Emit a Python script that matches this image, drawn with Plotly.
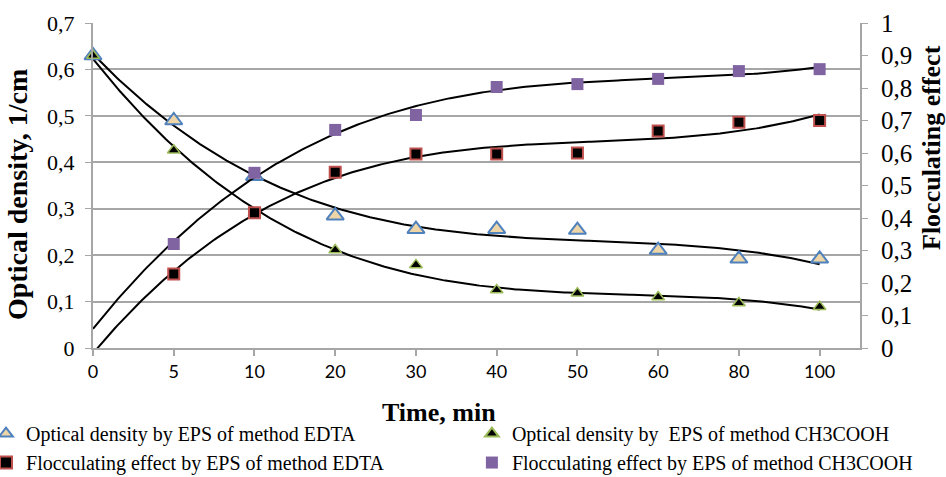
import numpy as np
import plotly.graph_objects as go

time_labels = ["0", "5", "10", "20", "30", "40", "50", "60", "80", "100"]
od_edta = [0.63, 0.49, 0.37, 0.285, 0.256, 0.256, 0.254, 0.211, 0.192, 0.192]
od_ch3cooh = [0.63, 0.426, 0.29, 0.211, 0.179, 0.125, 0.118, 0.11, 0.097, 0.089]
fe_edta = [None, 0.228, 0.416, 0.541, 0.597, 0.597, 0.60, 0.668, 0.695, 0.70]
fe_ch3cooh = [None, 0.32, 0.539, 0.671, 0.717, 0.803, 0.812, 0.828, 0.852, 0.858]

idx = np.arange(len(time_labels))
xs = np.linspace(0, len(time_labels) - 1, 300)

def trend(vals, deg=3):
    x = np.array([i for i, v in zip(idx, vals) if v is not None], float)
    y = np.array([v for v in vals if v is not None], float)
    c = np.polyfit(x, y, deg)
    return np.polyval(c, xs)

serif = "Liberation Serif"
fig = go.Figure()

line_style = dict(color="black", width=2)
fig.add_trace(go.Scatter(x=xs, y=trend(od_edta), mode="lines", line=line_style, showlegend=False, hoverinfo="skip"))
fig.add_trace(go.Scatter(x=xs, y=trend(od_ch3cooh), mode="lines", line=line_style, showlegend=False, hoverinfo="skip"))
fig.add_trace(go.Scatter(x=xs, y=trend(fe_edta), mode="lines", line=line_style, showlegend=False, hoverinfo="skip", yaxis="y2"))
fig.add_trace(go.Scatter(x=xs, y=trend(fe_ch3cooh), mode="lines", line=line_style, showlegend=False, hoverinfo="skip", yaxis="y2"))

fig.add_trace(go.Scatter(x=idx, y=od_edta, mode="markers", name="Optical density by EPS of method EDTA",
                         legend="legend",
                         marker=dict(symbol="triangle-up", size=15, color="#EDD5A8", line=dict(color="#4F81BD", width=2)),
                         cliponaxis=False))
fig.add_trace(go.Scatter(x=idx, y=od_ch3cooh, mode="markers", name="Optical density by  EPS of method CH3COOH",
                         legend="legend2",
                         marker=dict(symbol="triangle-up", size=11, color="black", line=dict(color="#9BBB59", width=1.5)),
                         cliponaxis=False))
fig.add_trace(go.Scatter(x=idx, y=fe_edta, mode="markers", name="Flocculating effect by EPS of method EDTA", yaxis="y2",
                         legend="legend",
                         marker=dict(symbol="square", size=11, color="black", line=dict(color="#C0504D", width=2)),
                         cliponaxis=False))
fig.add_trace(go.Scatter(x=idx, y=fe_ch3cooh, mode="markers", name="Flocculating effect by EPS of method CH3COOH", yaxis="y2",
                         legend="legend2",
                         marker=dict(symbol="square", size=12, color="#8064A2", line=dict(width=0)),
                         cliponaxis=False))

grid = "#A6A6A6"
leg_common = dict(orientation="v", xref="paper", yref="container", yanchor="top", y=0.132, xanchor="left",
                  font=dict(family=serif, size=20, color="black"),
                  tracegroupgap=0, itemsizing="constant", itemwidth=30,
                  bgcolor="rgba(0,0,0,0)", traceorder="normal")
fig.update_layout(
    width=946, height=477,
    margin=dict(l=93, r=86, t=23, b=129, autoexpand=False),
    paper_bgcolor="white", plot_bgcolor="white",
    separators=", ",
    showlegend=True,
    legend=dict(leg_common, x=-0.1395),
    legend2=dict(leg_common, x=0.494),
    xaxis=dict(range=[0, 9.5], tickmode="array", tickvals=idx, ticktext=time_labels,
               showgrid=False, showline=True, linecolor=grid, linewidth=2,
               ticks="outside", ticklen=6, tickcolor=grid, tickwidth=1.5,
               tickfont=dict(family="Lato", size=18, color="black"),
               zeroline=False),
    yaxis=dict(range=[0, 0.7], dtick=0.1, tick0=0, showgrid=True, gridcolor=grid, gridwidth=1.5,
               showline=True, linecolor=grid, linewidth=2, ticks="outside", ticklen=6, tickcolor=grid,
               ticklabelstandoff=6,
               tickfont=dict(family=serif, size=22, color="black"), zeroline=False),
    yaxis2=dict(range=[0, 1], dtick=0.1, tick0=0, overlaying="y", side="right", showgrid=False,
                showline=True, linecolor=grid, linewidth=2, ticks="outside", ticklen=6, tickcolor=grid,
                ticklabelstandoff=8,
                tickfont=dict(family=serif, size=25, color="black"), zeroline=False),
    annotations=[
        dict(text="<b>Optical density, 1/cm</b>", textangle=-90, xref="paper", yref="paper",
             x=(18 - 93) / 767, y=(348 - 195) / 325, xanchor="center", yanchor="middle", showarrow=False,
             font=dict(family=serif, size=28, color="black")),
        dict(text="<b>Flocculating effect</b>", textangle=-90, xref="paper", yref="paper",
             x=(931 - 93) / 767, y=(348 - 148) / 325, xanchor="center", yanchor="middle", showarrow=False,
             font=dict(family=serif, size=26, color="black")),
        dict(text="<b>Time, min</b>", xref="paper", yref="paper",
             x=(439 - 93) / 767, y=(348 - 412) / 325, xanchor="center", yanchor="middle", showarrow=False,
             font=dict(family=serif, size=26, color="black")),
    ],
)

fig.write_html("out.html", config={"displayModeBar": False},
               post_script="document.body.style.margin='0';")
